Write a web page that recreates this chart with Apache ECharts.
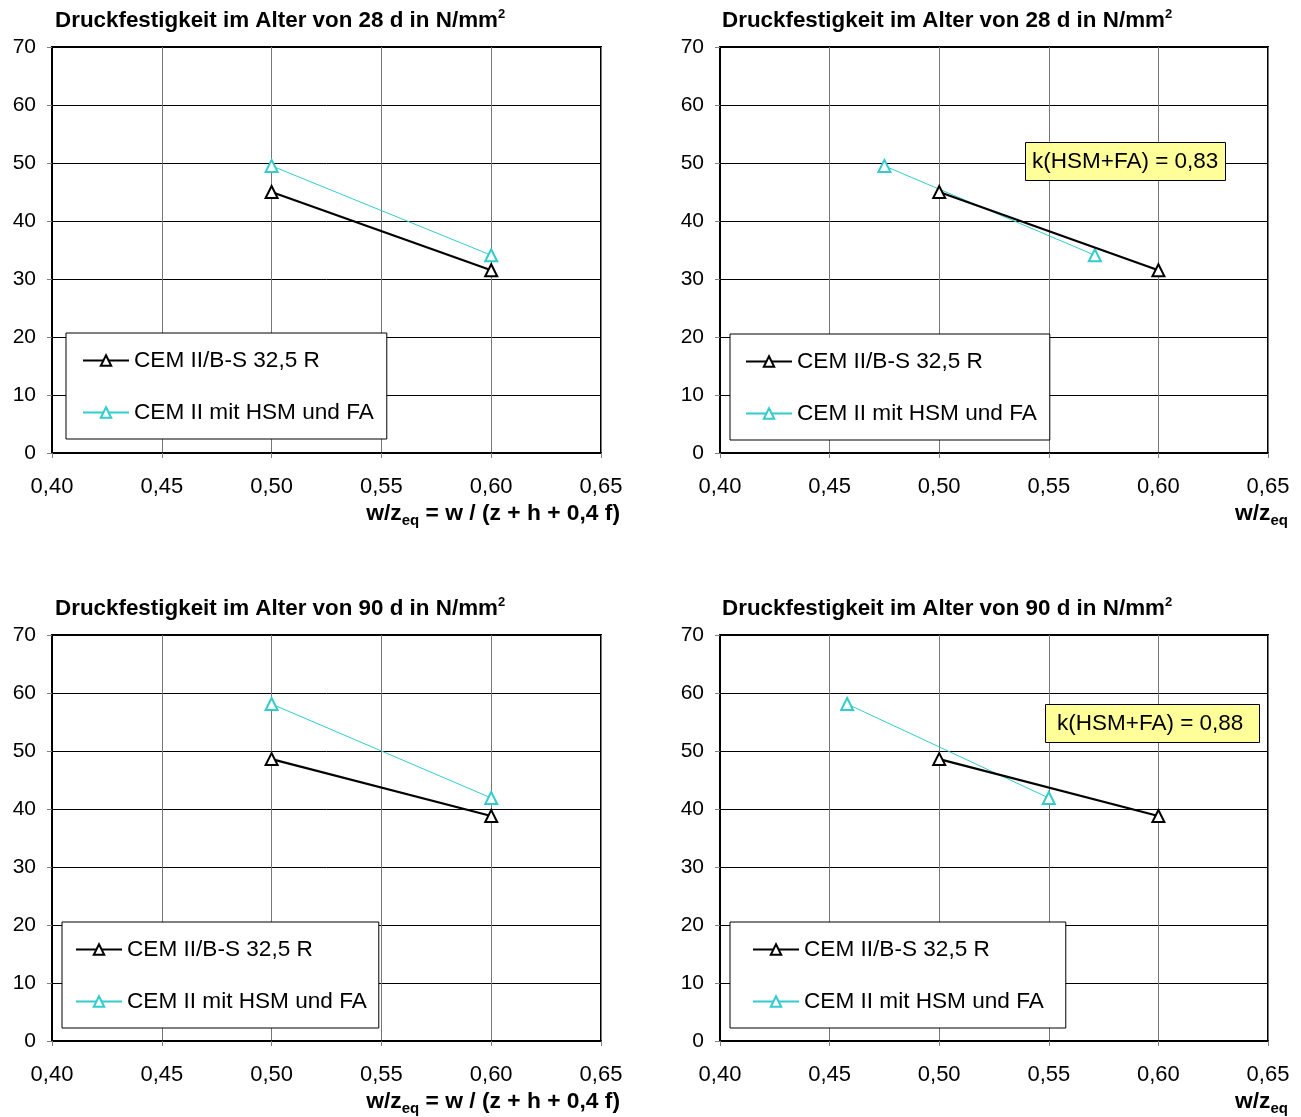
<!DOCTYPE html>
<html>
<head>
<meta charset="utf-8">
<script src="https://cdn.jsdelivr.net/npm/echarts@6/dist/echarts.min.js"></script>
<style>html,body{margin:0;padding:0;background:#fff}#c{width:1301px;height:1117px}</style>
</head>
<body>
<div id="c"></div>
<script>
// ---- data ----
const seriesNames = ['CEM II/B-S 32,5 R', 'CEM II mit HSM und FA'];
const xTicks = [0.40, 0.45, 0.50, 0.55, 0.60, 0.65];
const yTicks = [0, 10, 20, 30, 40, 50, 60, 70];
// top-left: 28 d, w/zeq = w/(z+h+0.4f)
const tlRef = [[0.50, 45.0], [0.60, 31.5]];
const tlHsm = [[0.50, 49.5], [0.60, 34.1]];
// top-right: 28 d, k = 0.83
const trRef = [[0.50, 45.0], [0.60, 31.5]];
const trHsm = [[0.475, 49.5], [0.571, 34.1]];
// bottom-left: 90 d
const blRef = [[0.50, 48.6], [0.60, 38.8]];
const blHsm = [[0.50, 58.1], [0.60, 41.9]];
// bottom-right: 90 d, k = 0.88
const brRef = [[0.50, 48.6], [0.60, 38.8]];
const brHsm = [[0.458, 58.1], [0.55, 41.9]];
const titles28 = 'Druckfestigkeit im Alter von 28 d in N/mm';
const titles90 = 'Druckfestigkeit im Alter von 90 d in N/mm';
const kLabels = ['k(HSM+FA) = 0,83', 'k(HSM+FA) = 0,88'];

// ---- layout ----
const FONT = '"Liberation Sans", Arial, sans-serif';
const grids = [
  {left: 52, top: 47, width: 549, height: 406},
  {left: 720, top: 47, width: 548, height: 406},
  {left: 52, top: 635, width: 549, height: 406},
  {left: 720, top: 635, width: 548, height: 406}
];
const fmtX = v => v.toFixed(2).replace('.', ',');

const xAxes = grids.map((g, i) => ({
  type: 'value', gridIndex: i, min: xTicks[0], max: xTicks[xTicks.length - 1], interval: 0.05,
  axisLine: {show: true, onZero: false, lineStyle: {color: '#000', width: 2}},
  axisTick: {show: true, length: 5, lineStyle: {color: '#808080'}},
  axisLabel: {color: '#000', fontSize: 22, fontFamily: FONT, margin: 23, formatter: fmtX},
  splitLine: {show: true, lineStyle: {color: '#777', width: 1}}
}));
const yAxes = grids.map((g, i) => ({
  type: 'value', gridIndex: i, min: yTicks[0], max: yTicks[yTicks.length - 1], interval: 10,
  axisLine: {show: true, lineStyle: {color: '#000', width: 2}},
  axisTick: {show: true, length: 5, lineStyle: {color: '#808080'}},
  axisLabel: {color: '#000', fontSize: 21, fontFamily: FONT, margin: 16},
  splitLine: {show: true, lineStyle: {color: '#000', width: 1}}
}));

const datasets = [[tlRef, tlHsm], [trRef, trHsm], [blRef, blHsm], [brRef, brHsm]];
const series = [];
datasets.forEach((pair, i) => {
  series.push({
    name: seriesNames[0], type: 'line', xAxisIndex: i, yAxisIndex: i, data: pair[0],
    symbol: 'triangle', symbolSize: 12, z: 3,
    lineStyle: {color: '#000', width: 2.2},
    itemStyle: {color: '#fff', borderColor: '#000', borderWidth: 2}
  });
  series.push({
    name: seriesNames[1], type: 'line', xAxisIndex: i, yAxisIndex: i, data: pair[1],
    symbol: 'triangle', symbolSize: 12, z: 2,
    lineStyle: {color: '#33CCCC', width: 1},
    itemStyle: {color: '#fff', borderColor: '#33CCCC', borderWidth: 2}
  });
});

const legendBoxes = [
  {left: 66, top: 333, padL: 16, padR: 13},
  {left: 730, top: 334, padL: 15, padR: 13},
  {left: 62, top: 922, padL: 13, padR: 12},
  {left: 730, top: 922, padL: 22, padR: 22}
];
const legends = legendBoxes.map(b => ({
  left: b.left, top: b.top, orient: 'vertical',
  data: seriesNames,
  backgroundColor: '#fff', borderColor: '#000', borderWidth: 1,
  padding: [16, b.padR, 15, b.padL],
  itemWidth: 46, itemHeight: 13, itemGap: 29,
  selectedMode: false,
  textStyle: {fontSize: 22.6, fontFamily: FONT, color: '#000'}
}));

const titleRich = {
  m: {fontSize: 22.4, fontWeight: 'bold', fontFamily: FONT, color: '#000', lineHeight: 26},
  sup: {fontSize: 13, fontWeight: 'bold', fontFamily: FONT, color: '#000', verticalAlign: 'top', lineHeight: 13}
};
const nameRich = {
  m: {fontSize: 22.8, fontWeight: 'bold', fontFamily: FONT, color: '#000', lineHeight: 28},
  sub: {fontSize: 15, fontWeight: 'bold', fontFamily: FONT, color: '#000', verticalAlign: 'bottom', lineHeight: 14}
};
const mkTitle = (txt, left, top) => ({
  text: '{m|' + txt + '}{sup|2}', left: left, top: top, padding: 0,
  textStyle: {rich: titleRich}
});
const mkName = (txt, right, top) => ({
  text: txt, right: right, top: top, padding: 0,
  textStyle: {rich: nameRich}
});
const mkBox = (txt, left, top, padL, padR) => ({
  text: txt, left: left, top: top,
  padding: [8, padR, 8, padL],
  backgroundColor: '#ffff99', borderColor: '#000', borderWidth: 1,
  textStyle: {fontSize: 22.5, fontWeight: 'normal', fontFamily: FONT, color: '#000', lineHeight: 21}
});

const fullName = '{m|w/z}{sub|eq}{m| = w / (z + h + 0,4 f)}';
const shortName = '{m|w/z}{sub|eq}';
const titles = [
  mkTitle(titles28, 55, 8),
  mkTitle(titles28, 722, 8),
  mkTitle(titles90, 55, 596),
  mkTitle(titles90, 722, 596),
  mkName(fullName, 681, 500),
  mkName(shortName, 13, 500),
  mkName(fullName, 681, 1088),
  mkName(shortName, 13, 1088),
  mkBox(kLabels[0], 1025, 143, 7, 7),
  mkBox(kLabels[1], 1045, 705, 12, 16)
];

const chart = echarts.init(document.getElementById('c'), null, {renderer: 'canvas'});
chart.setOption({
  backgroundColor: '#fff',
  animation: false,
  title: titles,
  legend: legends,
  grid: grids.map(g => Object.assign({show: true, borderColor: '#000', borderWidth: 2, backgroundColor: 'transparent', containLabel: false, outerBoundsMode: 'none'}, g)),
  xAxis: xAxes,
  yAxis: yAxes,
  series: series
});
</script>
</body>
</html>
